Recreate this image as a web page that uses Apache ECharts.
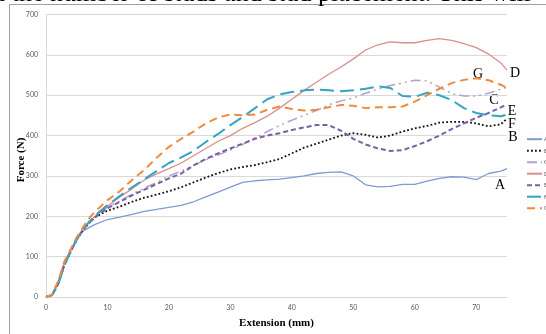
<!DOCTYPE html>
<html>
<head>
<meta charset="utf-8">
<script src="https://cdn.jsdelivr.net/npm/echarts@6/dist/echarts.min.js"></script>
<style>html,body{margin:0;padding:0;background:#fff;}#c{width:546px;height:334px;}</style>
</head>
<body>
<div id="c"></div>
<script>
const ext = [0,1,2,3,4,5,6,7,8,10,12,14,16,18,20,22,24,26,28,30,32,34,36,38,40,42,44,46,48,50,52,54,56,58,60,62,64,66,68,70,72,74,75];
const A = [0,4,35,85,115,145,163,172,180,192,198,205,212,217,222,227,236,248,260,272,284,288,290,292,296,300,306,309,310,300,278,273,274,279,279,287,294,298,297,291,306,312,318];
const B = [0,5,33,80,112,142,165,183,198,214,224,236,246,254,262,272,284,296,307,316,322,327,334,342,356,370,380,390,400,406,402,395,400,410,418,424,432,434,434,430,423,428,442];
const C = [0,5,35,85,115,145,168,186,200,222,238,255,270,284,300,312,326,340,352,364,378,394,410,425,438,450,462,476,486,493,505,515,524,530,537,536,520,504,498,498,505,515,520];
const D = [0,6,40,88,115,145,168,186,200,225,248,268,290,305,318,332,350,368,386,400,418,432,448,468,490,512,532,552,570,590,612,625,632,630,630,636,640,636,628,618,602,580,562];
const E = [0,5,33,80,112,143,166,184,198,220,236,252,266,280,294,306,326,342,356,368,380,392,400,406,414,420,426,426,412,392,378,368,362,364,374,386,400,416,430,444,456,470,477];
const F = [0,4,32,78,112,142,166,186,202,228,250,272,292,312,332,346,362,384,404,426,446,468,490,502,508,512,514,512,510,512,516,522,518,498,496,506,500,488,468,456,450,448,452];
const G = [0,6,40,88,118,148,172,195,212,240,262,290,315,345,372,392,410,430,445,452,450,452,464,472,466,462,464,470,476,474,468,470,470,472,484,500,516,530,538,542,537,526,518];
const names = ['A','B','C','D','E','F','G'];
const values = [A,B,C,D,E,F,G];
const xTicks = [0,10,20,30,40,50,60,70];
const yTicks = [0,100,200,300,400,500,600,700];
const styles = [
  {color:'#7F9BD1', width:1.3, type:'solid'},
  {color:'#111111', width:1.8, type:[1.8,2.2]},
  {color:'#B3A2C7', width:1.5, type:[10,4,2,4,2,4]},
  {color:'#DA8E8A', width:1.3, type:'solid'},
  {color:'#7B5EA7', width:2, type:[5,3]},
  {color:'#31A5C2', width:2, type:[14,6]},
  {color:'#F08A3C', width:2, type:[8,5]}
];
const annotations = [
  {t:'G', x:478, y:74}, {t:'D', x:515, y:73}, {t:'C', x:494, y:100},
  {t:'E', x:512, y:111}, {t:'F', x:512, y:124}, {t:'B', x:513, y:137}, {t:'A', x:500, y:185}
];
const chart = echarts.init(document.getElementById('c'), null, {renderer:'canvas'});
const tickFont = {fontFamily:'Lato', fontSize:7, color:'#595959'};
chart.setOption({
  animation:false,
  backgroundColor:'#fff',
  grid:{left:46, right:39, top:14.5, bottom:28.5, containLabel:false},
  xAxis:{type:'value', min:0, max:75, interval:10,
    axisLine:{lineStyle:{color:'#D9D9D9'}}, axisTick:{show:false},
    axisLabel:Object.assign({showMaxLabel:false, margin:7, formatter:v=>xTicks.includes(v)?String(v):''}, tickFont),
    splitLine:{show:false},
    name:'Extension (mm)', nameLocation:'middle', nameGap:21,
    nameTextStyle:{fontFamily:'Liberation Serif', fontWeight:'bold', fontSize:11, color:'#000'}},
  yAxis:{type:'value', min:0, max:700, interval:100,
    axisLine:{show:true, lineStyle:{color:'#D9D9D9'}}, axisTick:{show:false},
    axisLabel:Object.assign({margin:8, formatter:v=>yTicks.includes(v)?String(v):''}, tickFont),
    splitLine:{lineStyle:{color:'#D9D9D9', width:1}}},
  legend:{orient:'vertical', left:521, top:131, itemWidth:15, itemHeight:8, itemGap:5.1,
    itemStyle:{color:'rgba(0,0,0,0)', borderWidth:0, opacity:0},
    textStyle:{fontFamily:'Lato', fontSize:6, color:'#595959', padding:[0,0,0,-3]},
    data:names},
  series: names.map((n,i)=>({
    name:n, type:'line', showSymbol:false, symbol:'none',
    data: ext.map((x,j)=>[x, values[i][j]]),
    lineStyle:{color:styles[i].color, width:styles[i].width, type:styles[i].type},
    itemStyle:{color:styles[i].color}
  })),
  graphic:[
    {type:'rect', shape:{x:9.5, y:4.5, width:700, height:500}, style:{fill:'none', stroke:'#A0A0A0', lineWidth:1}, silent:true},
    {type:'text', x:21, y:160, rotation:Math.PI/2, style:{text:'Force (N)', fontFamily:'Liberation Serif', fontWeight:'bold', fontSize:11, fill:'#000', align:'center', verticalAlign:'middle'}},
    {type:'text', x:318, y:-6, style:{text:'placement. This will', fontFamily:'Liberation Serif', fontSize:26, fill:'#000', align:'left', verticalAlign:'middle'}},
    {type:'text', x:318, y:-6, style:{text:'in the number of studs and stud ', fontFamily:'Liberation Serif', fontSize:26, fill:'#000', align:'right', verticalAlign:'middle'}}
  ].concat(annotations.map(a=>({type:'text', x:a.x, y:a.y,
    style:{text:a.t, fontFamily:'Liberation Serif', fontSize:14, fill:'#000', align:'center', verticalAlign:'middle'}})))
});
</script>
</body>
</html>
